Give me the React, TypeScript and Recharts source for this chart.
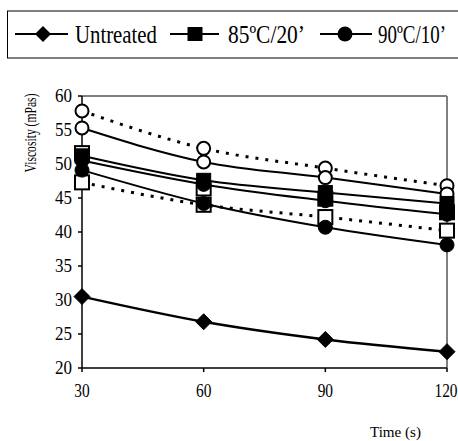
import React from 'react';
import { LineChart, Line, XAxis, YAxis, ReferenceLine } from 'recharts';

const times = [30, 60, 90, 120];
const yTicks = [20, 25, 30, 35, 40, 45, 50, 55, 60];
const untreated = [30.5, 26.8, 24.2, 22.4];
const t85_20 = [51.2, 47.6, 45.8, 44.2];
const t90_10 = [49.1, 44.2, 40.7, 38.1];
const extraSolid = [50.5, 47.0, 44.6, 42.6];
const openCircleSolid = [55.3, 50.3, 48.0, 45.6];
const openCircleDashed = [57.8, 52.3, 49.4, 46.8];
const openSquareDashed = [47.3, 44.0, 42.2, 40.2];
const openSquareUpper = [51.6, 46.4, 44.9, 42.9];

const rows = times.map((t, i) => ({
  t,
  untreated: untreated[i],
  t85_20: t85_20[i],
  t90_10: t90_10[i],
  extraSolid: extraSolid[i],
  openCircleSolid: openCircleSolid[i],
  openCircleDashed: openCircleDashed[i],
  openSquareDashed: openSquareDashed[i],
  openSquareUpper: openSquareUpper[i],
}));

const FONT = 'Liberation Serif, DejaVu Serif, serif';
const txt = { fontFamily: FONT };

const makeDot = (shape: string, filled: boolean) => (props: any) => {
  const { cx, cy, index } = props;
  if (cx == null || cy == null) return <g key={index} />;
  const fill = filled ? '#000' : '#fff';
  if (shape === 'diamond') {
    const s = 8;
    return (
      <path key={index} d={`M${cx},${cy - s} L${cx + s},${cy} L${cx},${cy + s} L${cx - s},${cy} Z`} fill={fill} stroke="#000" strokeWidth={1} />
    );
  }
  if (shape === 'square') {
    const s = 7;
    return <rect key={index} x={cx - s} y={cy - s} width={2 * s} height={2 * s} fill={fill} stroke="#000" strokeWidth={filled ? 1 : 2} />;
  }
  return <circle key={index} cx={cx} cy={cy} r={filled ? 7 : 6.5} fill={fill} stroke="#000" strokeWidth={filled ? 1 : 2} />;
};

const XTick = (props: any) => {
  const { x, y, payload } = props;
  const s = String(payload.value);
  return (
    <text x={x} y={y} textAnchor="middle" dy={13} style={txt} fontSize={18} fill="#000" textLength={s.length * 7.7} lengthAdjust="spacingAndGlyphs">
      {s}
    </text>
  );
};

const YTick = (props: any) => {
  const { x, y, payload } = props;
  return (
    <text x={x} y={y} textAnchor="end" dy={6} style={txt} fontSize={18} fill="#000" textLength={17} lengthAdjust="spacingAndGlyphs">
      {payload.value}
    </text>
  );
};

export default function App() {
  return (
    <div style={{ position: 'absolute', left: 0, top: 0, width: 458, height: 441, background: '#fff', overflow: 'hidden' }}>
      <div style={{ position: 'absolute', left: 0, top: 0 }}>
        <LineChart width={458} height={441} data={rows} margin={{ top: 96, right: 11, bottom: 43, left: 0 }}>
          <XAxis
            dataKey="t"
            type="number"
            domain={[30, 120]}
            ticks={times}
            tickSize={4}
            tickMargin={12}
            height={30}
            axisLine={{ stroke: '#000', strokeWidth: 1.5 }}
            tickLine={{ stroke: '#000', strokeWidth: 1.5 }}
            tick={XTick}
          />
          <YAxis
            type="number"
            domain={[20, 60]}
            ticks={yTicks}
            width={82}
            tickSize={4}
            tickMargin={6}
            axisLine={{ stroke: '#000', strokeWidth: 1.5 }}
            tickLine={{ stroke: '#000', strokeWidth: 1.5 }}
            tick={YTick}
          />
          <ReferenceLine y={60} stroke="#808080" strokeWidth={2} />
          <ReferenceLine x={120} stroke="#808080" strokeWidth={2} />
          <Line dataKey="openSquareUpper" type="monotone" stroke="none" dot={makeDot('square', false)} isAnimationActive={false} />
          <Line dataKey="openCircleDashed" type="monotone" stroke="#000" strokeWidth={3} strokeDasharray="3 7" dot={makeDot('circle', false)} isAnimationActive={false} />
          <Line dataKey="openSquareDashed" type="monotone" stroke="#000" strokeWidth={3} strokeDasharray="3 7" dot={makeDot('square', false)} isAnimationActive={false} />
          <Line dataKey="openCircleSolid" type="monotone" stroke="#000" strokeWidth={2} dot={makeDot('circle', false)} isAnimationActive={false} />
          <Line dataKey="extraSolid" type="monotone" stroke="#000" strokeWidth={2} dot={makeDot('circle', true)} isAnimationActive={false} />
          <Line dataKey="t90_10" type="monotone" stroke="#000" strokeWidth={2} dot={makeDot('circle', true)} isAnimationActive={false} />
          <Line dataKey="t85_20" type="monotone" stroke="#000" strokeWidth={2} dot={makeDot('square', true)} isAnimationActive={false} />
          <Line dataKey="untreated" type="monotone" stroke="#000" strokeWidth={2.5} dot={makeDot('diamond', true)} isAnimationActive={false} />
        </LineChart>
      </div>
      <svg width={458} height={441} style={{ position: 'absolute', left: 0, top: 0, pointerEvents: 'none' }}>
        <rect x={7.5} y={11} width={520} height={47} fill="none" stroke="#000" strokeWidth={1} />
        <line x1={15} y1={34} x2={68} y2={34} stroke="#000" strokeWidth={2} />
        <path d="M43,26 L51,34 L43,42 L35,34 Z" fill="#000" />
        <text x={75} y={43} style={txt} fontSize={25} textLength={82} lengthAdjust="spacingAndGlyphs" fill="#000">Untreated</text>
        <line x1={170} y1={34} x2={219} y2={34} stroke="#000" strokeWidth={2} />
        <rect x={187.5} y={27} width={15} height={14} fill="#000" />
        <text x={228} y={43} style={txt} fontSize={25} textLength={77} lengthAdjust="spacingAndGlyphs" fill="#000">85ºC/20’</text>
        <line x1={320} y1={34} x2={372} y2={34} stroke="#000" strokeWidth={2} />
        <circle cx={345} cy={34} r={7.5} fill="#000" />
        <text x={378} y={43} style={txt} fontSize={25} textLength={68} lengthAdjust="spacingAndGlyphs" fill="#000">90ºC/10’</text>
        <text transform="translate(36,133) rotate(-90)" x={0} y={0} textAnchor="middle" style={txt} fontSize={16} textLength={79} lengthAdjust="spacingAndGlyphs" fill="#000">Viscosity (mPas)</text>
        <text x={370} y={437} style={txt} fontSize={15} textLength={51} lengthAdjust="spacingAndGlyphs" fill="#000">Time (s)</text>
      </svg>
    </div>
  );
}
